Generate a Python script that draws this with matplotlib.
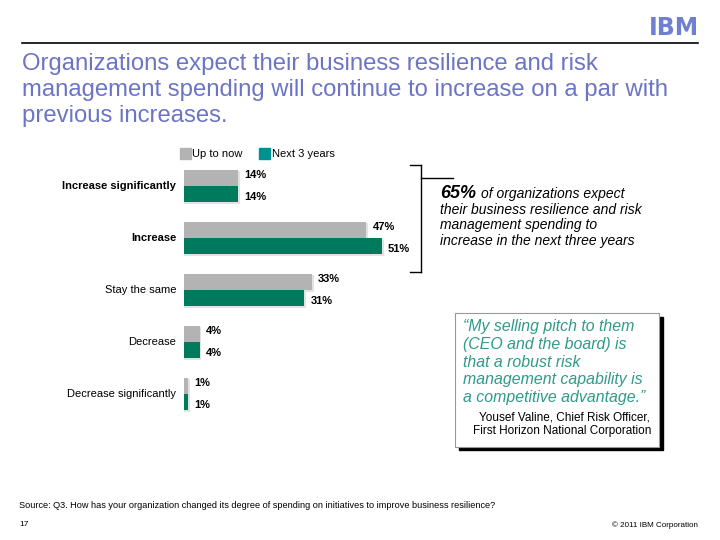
import matplotlib
matplotlib.use("Agg")
import matplotlib.pyplot as plt
from matplotlib.patches import Rectangle
import numpy as np

plt.rcParams['font.family'] = ['Liberation Sans', 'DejaVu Sans']

categories = ["Increase significantly", "Increase", "Stay the same", "Decrease", "Decrease significantly"]
bold_cats = [True, True, False, False, False]
up_to_now = [14, 47, 33, 4, 1]
next_3_years = [14, 51, 31, 4, 1]
series_names = ["Up to now", "Next 3 years"]

W, H = 720, 540
fig = plt.figure(figsize=(7.2, 5.4), dpi=100)

def fx(px):
    return px / W

def fy(py):
    return 1 - py / H

GRAY = "#b3b3b3"
GREEN = "#007a5c"
LEG_TEAL = "#009090"
TITLE_C = "#6c74c4"
QUOTE_C = "#2f9a8a"

# header line and logo
fig.add_artist(plt.Line2D([fx(22), fx(698)], [fy(43), fy(43)], color="black", lw=1.2))
fig.text(fx(699), fy(28), "IBM", ha="right", va="center", fontsize=17, fontweight="bold",
         color="#7080d0", family="DejaVu Sans")
for yy in np.linspace(18.5, 37.5, 9):
    fig.add_artist(plt.Line2D([fx(648), fx(702)], [fy(yy), fy(yy)], color="white", lw=1.1))

# title
title_lines = ["Organizations expect their business resilience and risk",
               "management spending will continue to increase on a par with",
               "previous increases."]
for i, t in enumerate(title_lines):
    fig.text(fx(22), fy(64 + 26 * i), t, ha="left", va="center", fontsize=17.2, color=TITLE_C)

# chart axes: x 184..572 px => 0..100 ; y 160..420 px => -0.5..4.5
ax = fig.add_axes([fx(184), fy(420), fx(388), (420 - 160) / H])
ax.set_xlim(0, 100)
ax.set_ylim(4.5, -0.5)
ax.axis("off")
y = np.arange(len(categories))
h = 0.31
# shadow
ax.barh(y - h / 2 + 0.03, np.array(up_to_now) + 0.5, height=h, color="#e2e2e2", align="center", zorder=1)
ax.barh(y + h / 2 + 0.03, np.array(next_3_years) + 0.5, height=h, color="#e2e2e2", align="center", zorder=1)
ax.barh(y - h / 2, up_to_now, height=h, color=GRAY, align="center", zorder=2)
ax.barh(y + h / 2, next_3_years, height=h, color=GREEN, align="center", zorder=2)
for i, (a, b) in enumerate(zip(up_to_now, next_3_years)):
    ax.text(a + 1.6, y[i] - h / 2 - 0.05, f"{a}%", ha="left", va="center", fontsize=8, fontweight="bold")
    ax.text(b + 1.6, y[i] + h / 2 + 0.05, f"{b}%", ha="left", va="center", fontsize=8, fontweight="bold")
    ax.text(-2.0, y[i], categories[i], ha="right", va="center", fontsize=8,
            fontweight="bold" if bold_cats[i] else "normal")

# legend
fig.add_artist(Rectangle((fx(180), fy(159)), fx(11), 11 / H, color=GRAY, transform=fig.transFigure))
fig.text(fx(192), fy(154), series_names[0], ha="left", va="center", fontsize=8)
fig.add_artist(Rectangle((fx(259), fy(159)), fx(11), 11 / H, color=LEG_TEAL, transform=fig.transFigure))
fig.text(fx(272), fy(154), series_names[1], ha="left", va="center", fontsize=8)

# bracket
bk = dict(color="black", lw=1.0)
fig.add_artist(plt.Line2D([fx(421), fx(421)], [fy(165), fy(272)], **bk))
fig.add_artist(plt.Line2D([fx(410), fx(421)], [fy(165), fy(165)], **bk))
fig.add_artist(plt.Line2D([fx(410), fx(421)], [fy(272), fy(272)], **bk))
fig.add_artist(plt.Line2D([fx(421), fx(453)], [fy(178), fy(178)], **bk))

fig.text(fx(440), fy(193), "65%", ha="left", va="center", fontsize=13, fontweight="bold", style="italic")
fig.text(fx(481), fy(194), "of organizations expect", ha="left", va="center", fontsize=10, style="italic")
for i, t in enumerate(["their business resilience and risk", "management spending to",
                       "increase in the next three years"]):
    fig.text(fx(440), fy(210 + 15.5 * i), t, ha="left", va="center", fontsize=10, style="italic")

# quote box with shadow
fig.add_artist(Rectangle((fx(459), fy(450)), fx(204), (450 - 317) / H, color="black", transform=fig.transFigure))
fig.add_artist(Rectangle((fx(455), fy(447)), fx(204), (447 - 313) / H, facecolor="white",
                         edgecolor="#999999", lw=0.8, transform=fig.transFigure))
quote = ["\u201cMy selling pitch to them", "(CEO and the board) is", "that a robust risk",
         "management capability is", "a competitive advantage.\u201d"]
for i, t in enumerate(quote):
    fig.text(fx(463), fy(327 + 17.6 * i), t, ha="left", va="center", fontsize=11.4, style="italic", color=QUOTE_C)
fig.text(fx(650), fy(417), "Yousef Valine, Chief Risk Officer,", ha="right", va="center", fontsize=8.5)
fig.text(fx(651), fy(431), "First Horizon National Corporation", ha="right", va="center", fontsize=8.5)

# footer
fig.text(fx(19), fy(506), "Source: Q3. How has your organization changed its degree of spending on initiatives to improve business resilience?",
         ha="left", va="center", fontsize=6.6)
fig.text(fx(19), fy(525), "17", ha="left", va="center", fontsize=6)
fig.text(fx(698), fy(525), "\u00a9 2011 IBM Corporation", ha="right", va="center", fontsize=5.8)

fig.savefig("out.png", dpi=100)
